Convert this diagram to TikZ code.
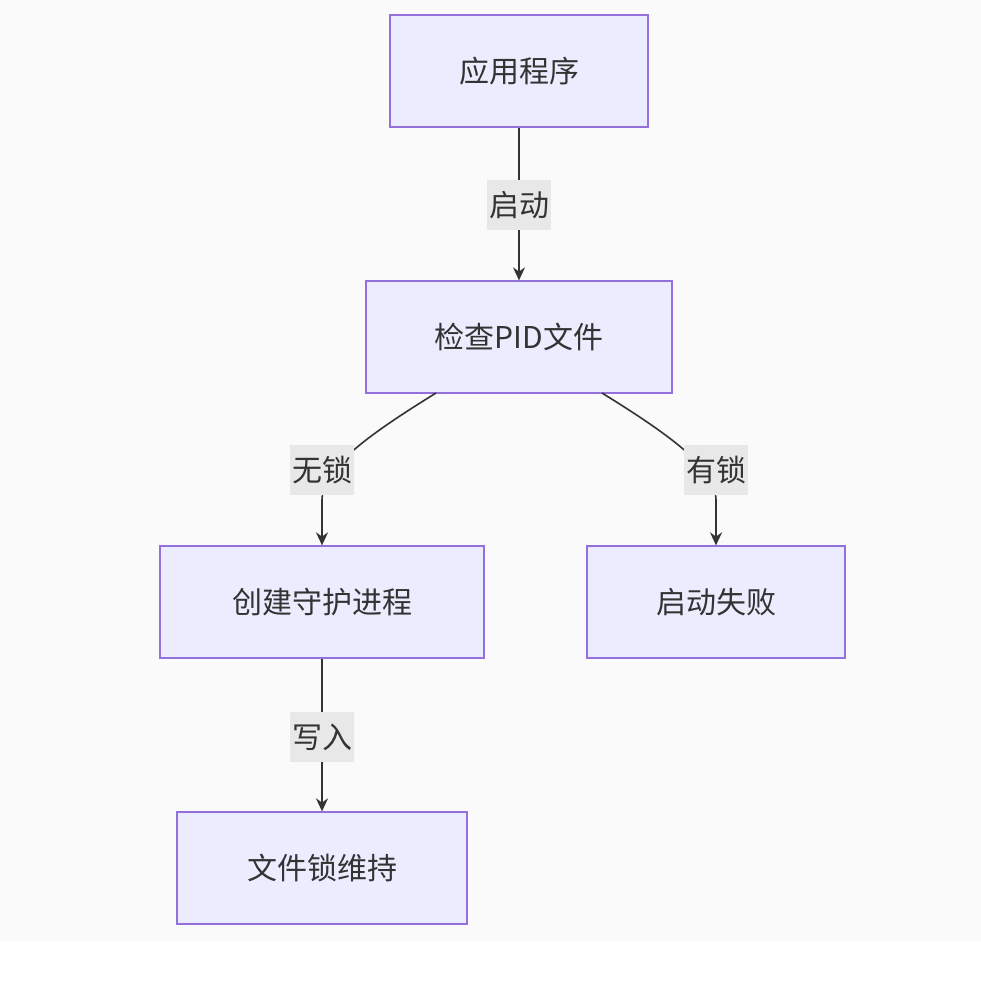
\documentclass[tikz,border=0pt]{standalone}
\usepackage{fontspec}
\setmainfont{Noto Sans CJK SC}
\usetikzlibrary{arrows.meta}
\definecolor{nfill}{HTML}{ECECFF}
\definecolor{nstroke}{HTML}{9370DB}
\definecolor{lbl}{HTML}{E8E8E8}
\definecolor{bg}{HTML}{FAFAFA}
\definecolor{ln}{HTML}{333333}
\begin{document}
\begin{tikzpicture}[x=1pt,y=-1pt,
 box/.style={draw=nstroke,fill=nfill,line width=1.3pt,inner sep=0pt,font=\fontsize{30}{34}\selectfont,text=ln},
 lab/.style={fill=lbl,inner xsep=2pt,inner ysep=0pt,minimum height=50pt,font=\fontsize{30}{34}\selectfont,text=ln},
 ar/.style={draw=ln,line width=1.6pt,-{Stealth[length=13pt,width=12pt]}}]
\useasboundingbox (0,0) rectangle (981,990);
\fill[bg] (0,0) rectangle (981,942);
\node[box,minimum width=258pt,minimum height=112pt] (a) at (519,71) {应用程序};
\node[box,minimum width=306pt,minimum height=112pt] (b) at (519,337) {检查PID文件};
\node[box,minimum width=324pt,minimum height=112pt] (c) at (322,602) {创建守护进程};
\node[box,minimum width=258pt,minimum height=112pt] (d) at (716,602) {启动失败};
\node[box,minimum width=290pt,minimum height=112pt] (e) at (322,868) {文件锁维持};
\draw[ar] (a) -- (b);
\node[lab] (l1) at (519,205) {启动};
\coordinate (b1) at (436,393);
\coordinate (b2) at (602,393);
\draw[ar] (b1) .. controls (360,440) and (322,470) .. (322,500) -- (c.north);
\draw[ar] (b2) .. controls (678,440) and (716,470) .. (716,500) -- (d.north);
\node[lab] (l2) at (322,470) {无锁};
\node[lab] (l3) at (716,470) {有锁};
\draw[ar] (c) -- (e);
\node[lab] (l4) at (322,737) {写入};
\end{tikzpicture}
\end{document}
